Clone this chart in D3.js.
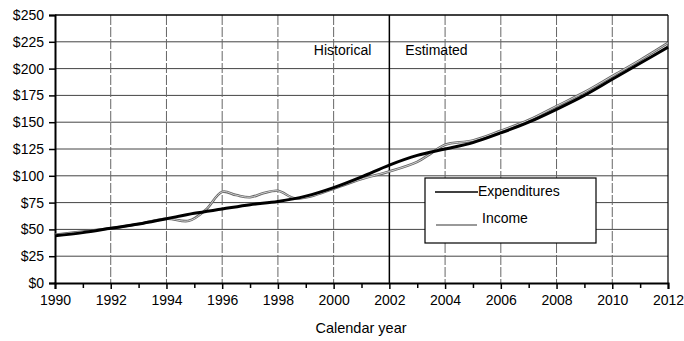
<!DOCTYPE html>
<html>
<head>
<meta charset="utf-8">
<script src="https://cdn.jsdelivr.net/npm/d3@7"></script>
<style>
  html, body { margin: 0; padding: 0; background: #fff; }
  svg { display: block; font-family: "Liberation Sans", Arial, sans-serif; }
</style>
</head>
<body>
<svg id="chart" width="684" height="341"></svg>
<script>
// Expenditures vs. income, historical and estimated (billions of dollars)
const expYears = [1990, 1991, 1992, 1993, 1994, 1995, 1996, 1997, 1998, 1999, 2000, 2001, 2002, 2003, 2004, 2005, 2006, 2007, 2008, 2009, 2010, 2011, 2012];
const expenditures = [44, 47, 51, 55, 60, 65, 69, 73, 76, 81, 89, 99, 110, 119, 125, 131, 140, 150, 162, 175, 190, 205, 220];

const incYears = [1990, 1991, 1992, 1993, 1994, 1994.8, 1995.4, 1996, 1996.5, 1997, 1997.5, 1998, 1998.6, 1999.2, 2000, 2001, 2002, 2003, 2003.5, 2004, 2005, 2006, 2007, 2008, 2009, 2010, 2011, 2012];
const income = [45, 48, 51, 55, 60, 58, 68, 85, 82, 80, 84, 86, 79, 81, 88, 97, 104, 113, 121, 129, 133, 142, 152, 165, 178, 193, 208, 224];

const yTicks = [0, 25, 50, 75, 100, 125, 150, 175, 200, 225, 250];
const xTicks = [1990, 1992, 1994, 1996, 1998, 2000, 2002, 2004, 2006, 2008, 2010, 2012];
const xMinor = d3.range(1991, 2012, 2);
const seriesNames = ["Expenditures", "Income"];
const periodLabels = ["Historical", "Estimated"];
const splitYear = 2002;
const xTitle = "Calendar year";

const svg = d3.select("#chart");
const m = { left: 55, right: 668, top: 15, bottom: 283 };

const x = d3.scaleLinear().domain([1990, 2012]).range([m.left, m.right]);
const y = d3.scaleLinear().domain([0, 250]).range([m.bottom, m.top]);

// horizontal gridlines
svg.append("g").selectAll("line").data(yTicks.filter(d => d > 0 && d < 250)).join("line")
  .attr("x1", m.left).attr("x2", m.right)
  .attr("y1", d => y(d)).attr("y2", d => y(d))
  .attr("stroke", "#444").attr("stroke-width", 1);

// vertical gridlines (dashed)
svg.append("g").selectAll("line").data(xTicks.filter(d => d > 1990 && d < 2012 && d !== splitYear)).join("line")
  .attr("x1", d => x(d)).attr("x2", d => x(d))
  .attr("y1", m.top).attr("y2", m.bottom)
  .attr("stroke", "#666").attr("stroke-width", 1)
  .attr("stroke-dasharray", "10,2");

// frame top and right
svg.append("line").attr("x1", m.left).attr("x2", m.right).attr("y1", m.top).attr("y2", m.top)
  .attr("stroke", "#000").attr("stroke-width", 1.5);
svg.append("line").attr("x1", m.right).attr("x2", m.right).attr("y1", m.top).attr("y2", m.bottom)
  .attr("stroke", "#000").attr("stroke-width", 1.2);

// historical / estimated divider
svg.append("line").attr("x1", x(splitYear)).attr("x2", x(splitYear)).attr("y1", m.top).attr("y2", m.bottom)
  .attr("stroke", "#000").attr("stroke-width", 1.5);

// axes
const yAxis = d3.axisLeft(y).tickValues(yTicks).tickFormat(d => "$" + d).tickSize(6).tickPadding(5);
const gy = svg.append("g").attr("transform", `translate(${m.left},0)`).call(yAxis);
const xAxis = d3.axisBottom(x).tickValues(xTicks).tickFormat(d3.format("d")).tickSize(6).tickPadding(6);
const gx = svg.append("g").attr("transform", `translate(0,${m.bottom})`).call(xAxis);
svg.append("g").attr("transform", `translate(0,${m.bottom})`)
  .call(d3.axisBottom(x).tickValues(xMinor).tickSize(5).tickFormat(""))
  .select(".domain").remove();

[gx, gy].forEach(g => {
  g.select(".domain").attr("stroke", "#000").attr("stroke-width", 2);
  g.selectAll(".tick text").attr("fill", "#000").style("font-size", "14px");
});
svg.selectAll(".tick line").attr("stroke", "#000").attr("stroke-width", 1.5);

// axis title
svg.append("text").attr("x", 361).attr("y", 333).attr("text-anchor", "middle")
  .style("font-size", "14.5px").text(xTitle);

// period labels
svg.append("text").attr("x", x(splitYear) - 18).attr("y", 55).attr("text-anchor", "end")
  .style("font-size", "14px").text(periodLabels[0]);
svg.append("text").attr("x", x(splitYear) + 16).attr("y", 55)
  .style("font-size", "14px").text(periodLabels[1]);

const line = d3.line().curve(d3.curveCatmullRom.alpha(0.5));

// income line: gray with a light core
const incPts = incYears.map((yr, i) => [x(yr), y(income[i])]);
svg.append("path").attr("d", line(incPts)).attr("fill", "none")
  .attr("stroke", "#666").attr("stroke-width", 2.6);
svg.append("path").attr("d", line(incPts)).attr("fill", "none")
  .attr("stroke", "#ddd").attr("stroke-width", 0.9);

// expenditures line
const expPts = expYears.map((yr, i) => [x(yr), y(expenditures[i])]);
svg.append("path").attr("d", line(expPts)).attr("fill", "none")
  .attr("stroke", "#000").attr("stroke-width", 3);

// legend
const lg = svg.append("g");
lg.append("rect").attr("x", 425).attr("y", 178).attr("width", 171).attr("height", 65)
  .attr("fill", "#fff").attr("stroke", "#000").attr("stroke-width", 1.2);
lg.append("line").attr("x1", 435).attr("x2", 478).attr("y1", 192).attr("y2", 192)
  .attr("stroke", "#000").attr("stroke-width", 1.5);
lg.append("text").attr("x", 478).attr("y", 196).style("font-size", "14px").text(seriesNames[0]);
lg.append("line").attr("x1", 436).attr("x2", 477).attr("y1", 225).attr("y2", 225)
  .attr("stroke", "#777").attr("stroke-width", 1.5);
lg.append("text").attr("x", 482).attr("y", 223).style("font-size", "14px").text(seriesNames[1]);
</script>
</body>
</html>
